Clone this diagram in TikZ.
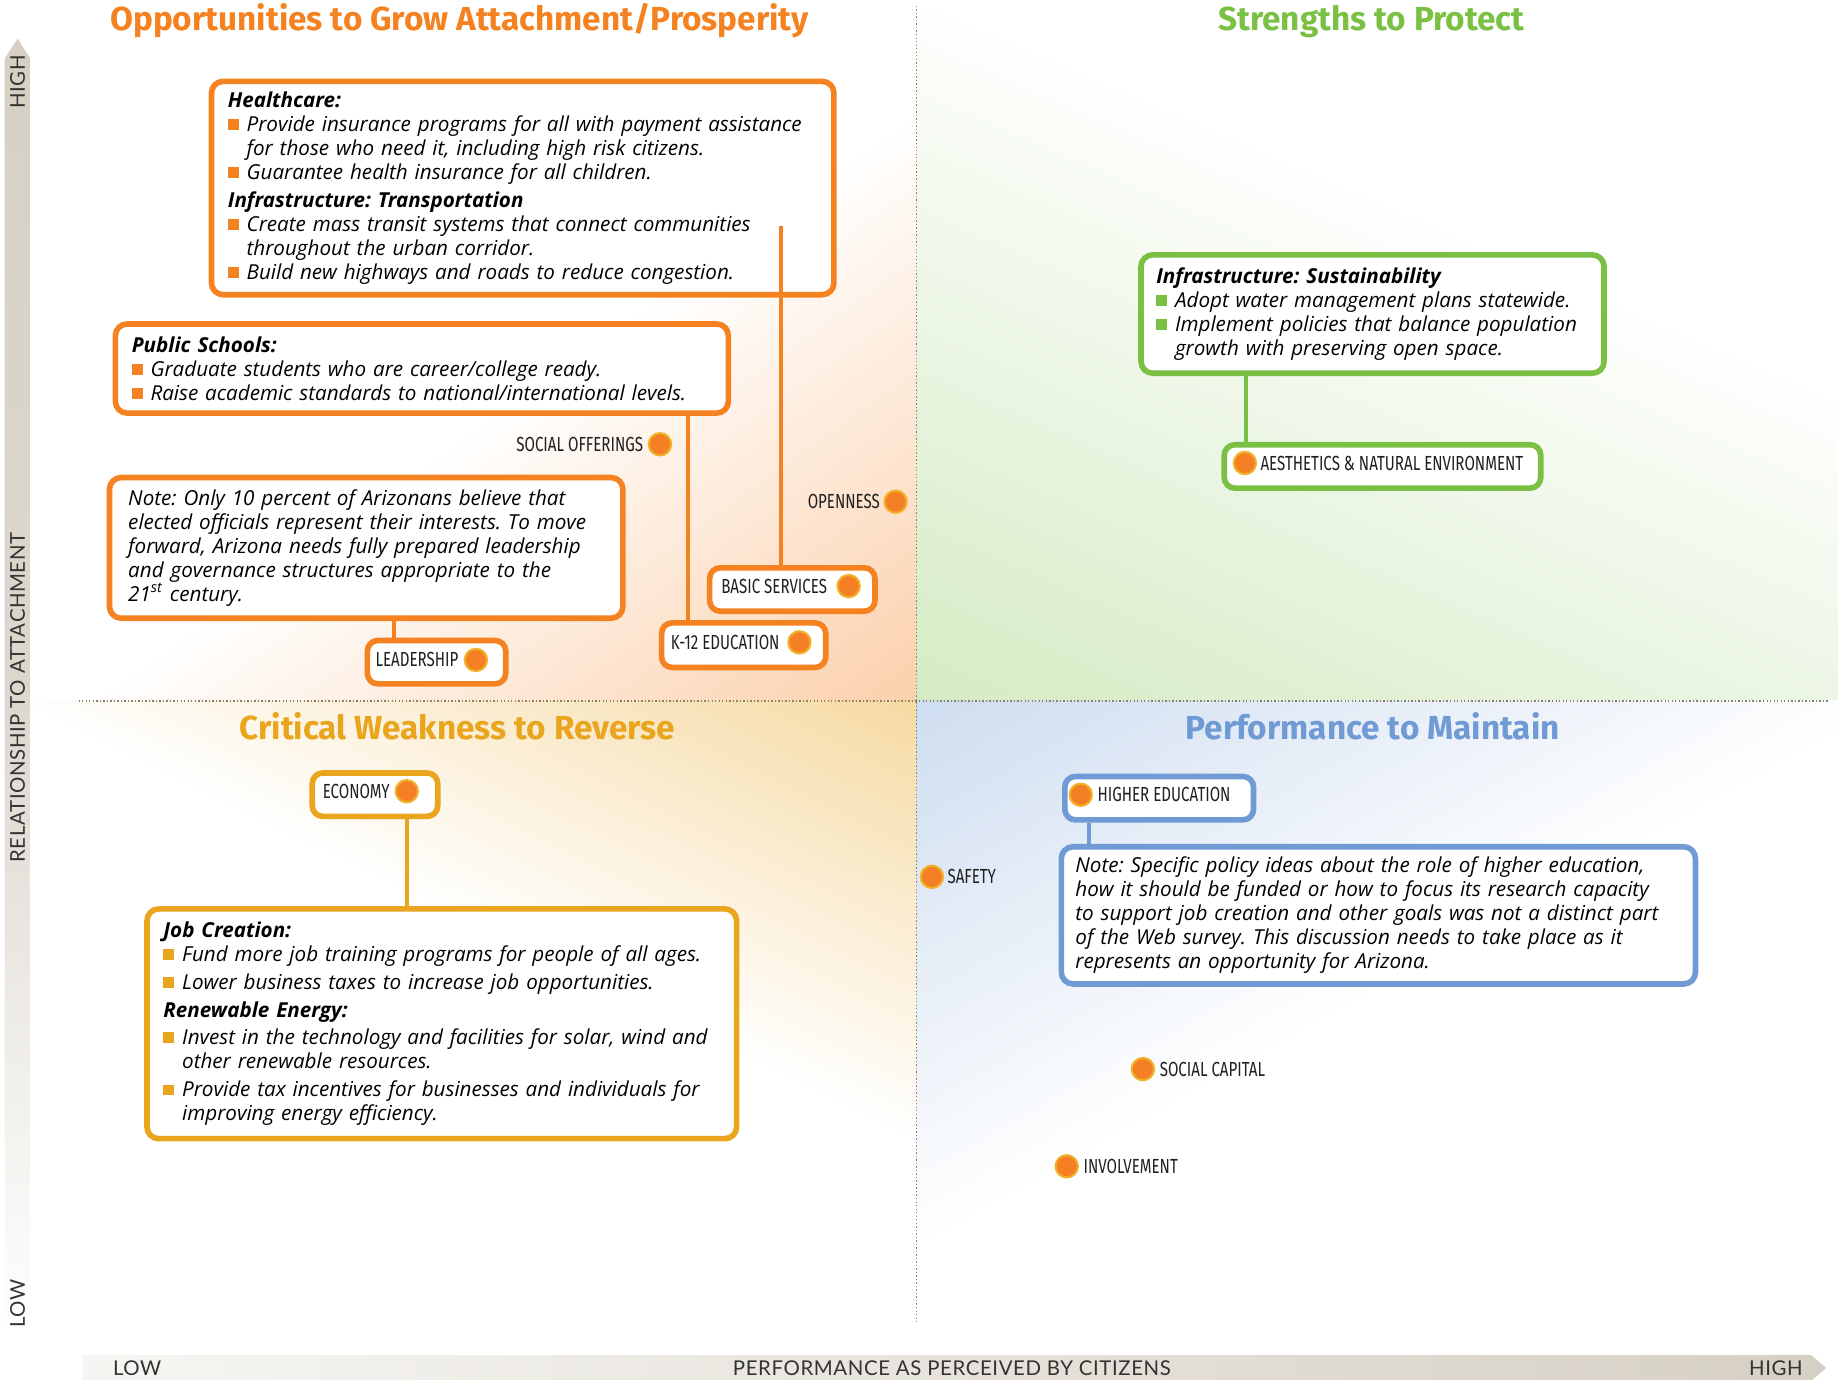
\documentclass[tikz,border=0pt]{standalone}
\usepackage{fontspec}
\setmainfont{Open Sans}
\newfontfamily\titlefamily{Fira Sans}
\newfontfamily\condfamily[FakeStretch=0.74]{Fira Sans}
\newfontfamily\axisfamily[LetterSpace=3]{Lato}
\usetikzlibrary{calc}

\definecolor{orng}{HTML}{F58220}
\definecolor{grn}{HTML}{7AC143}
\definecolor{gld}{HTML}{E9A51E}
\definecolor{blu}{HTML}{6F9AD3}
\definecolor{dotfill}{HTML}{F47F24}
\definecolor{dotring}{HTML}{F0B028}
\definecolor{axgray}{HTML}{D6D0C4}
\definecolor{dotline}{HTML}{8C7F6A}
\colorlet{tlc}{orng!38}
\colorlet{trc}{grn!32}
\colorlet{blc}{gld!42}
\colorlet{brc}{blu!34}
\colorlet{axlight}{axgray!20}
\colorlet{axmid}{axgray!85}

\pgfdeclareverticalshading{fadeTL}{100bp}{color(0bp)=(tlc); color(25bp)=(tlc); color(75bp)=(white); color(100bp)=(white)}
\pgfdeclareverticalshading{fadeTR}{100bp}{color(0bp)=(trc); color(25bp)=(trc); color(75bp)=(white); color(100bp)=(white)}
\pgfdeclareverticalshading{fadeBL}{100bp}{color(0bp)=(blc); color(25bp)=(blc); color(75bp)=(white); color(100bp)=(white)}
\pgfdeclareverticalshading{fadeBR}{100bp}{color(0bp)=(brc); color(25bp)=(brc); color(75bp)=(white); color(100bp)=(white)}
\pgfdeclareverticalshading{axisV}{100bp}{color(0bp)=(white); color(25bp)=(white); color(50bp)=(axmid); color(75bp)=(axgray); color(100bp)=(axgray)}
\pgfdeclarehorizontalshading{axisH}{100bp}{color(0bp)=(axlight); color(25bp)=(axlight); color(75bp)=(axgray); color(100bp)=(axgray)}

\newcommand\bodyfont{\fontsize{8.8}{10.25}\selectfont\itshape}
\newcommand\labfont{\condfamily\fontsize{8.7}{9}\selectfont}
\newcommand\ttlfont{\titlefamily\bfseries\fontsize{14.2}{16}\selectfont}
\newcommand\axfont{\axisfamily\fontsize{8.7}{10}\selectfont}
\newcommand\bq[1]{\makebox[8pt][l]{\textcolor{#1}{\rule[0.6pt]{4.6pt}{4.6pt}}}}
\newcommand\ind{\hspace*{8pt}}
\frenchspacing

\begin{document}
\begin{tikzpicture}[x=0.5pt,y=-0.5pt,
  box/.style={draw=#1, line width=2.4pt, rounded corners=5pt, fill=white, anchor=north west, align=left, inner ysep=0pt, font=\bodyfont},
  pill/.style={draw=#1, line width=2.4pt, rounded corners=4.5pt, fill=white, anchor=north west, inner sep=0pt},
  conn/.style={draw=#1, line width=1.8pt},
  lab/.style={font=\labfont, inner sep=0pt, text=black!88},
  dotn/.style={circle, fill=dotfill, draw=dotring, line width=0.9pt, minimum size=9.5pt, inner sep=0pt},
  ttl/.style={font=\ttlfont, anchor=base, text=#1, inner sep=0pt},
  axt/.style={font=\axfont, text=black!80, inner sep=0pt},
  qline/.style={draw=dotline, line width=0.6pt, dash pattern=on 0.6pt off 0.9pt}
]
\useasboundingbox (0,0) rectangle (1568,1177);

% quadrant gradients
\begin{scope}
\clip (26,0) rectangle (782,598);
\begin{scope}[transform canvas={rotate around={35.5:(782,598)}}]
\shade[shading=fadeTL] (-818,603) rectangle (2382,188);
\end{scope}
\end{scope}
\begin{scope}
\clip (782,0) rectangle (1568,598);
\begin{scope}[transform canvas={rotate around={-23.5:(782,598)}}]
\shade[shading=fadeTR] (-818,603) rectangle (2382,38);
\end{scope}
\end{scope}
\begin{scope}
\clip (26,598) rectangle (782,1150);
\begin{scope}[transform canvas={rotate around={154:(782,598)}}]
\shade[shading=fadeBL] (-818,603) rectangle (2382,258);
\end{scope}
\end{scope}
\begin{scope}
\clip (782,598) rectangle (1568,1150);
\begin{scope}[transform canvas={rotate around={-150.75:(782,598)}}]
\shade[shading=fadeBR] (-818,603) rectangle (2382,188);
\end{scope}
\end{scope}

% quadrant dividers
\draw[qline] (782,5) -- (782,1128);
\draw[qline] (67,598) -- (1560,598);

% axes
\shade[shading=axisV] (4,1140) -- (4,50) -- (15,33) -- (26,50) -- (26,1140) -- cycle;
\shade[shading=axisH] (70,1156) -- (1545,1156) -- (1558,1167) -- (1545,1178) -- (70,1178) -- cycle;
\node[axt, rotate=90] (yhigh) at (15,70) {HIGH};
\node[axt, rotate=90] (ytitle) at (15,595) {RELATIONSHIP TO ATTACHMENT};
\node[axt, rotate=90] (ylow) at (15,1112) {LOW};
\node[axt] (xlow) at (117,1167) {LOW};
\node[axt] (xtitle) at (812,1167) {PERFORMANCE AS PERCEIVED BY CITIZENS};
\node[axt] (xhigh) at (1515,1167) {HIGH};

% titles
\node[ttl=orng] (t1) at (392,26) {Opportunities to Grow Attachment/Prosperity};
\node[ttl=grn] (t2) at (1170,26) {Strengths to Protect};
\node[ttl=gld] (t3) at (390,631) {Critical Weakness to Reverse};
\node[ttl=blu] (t4) at (1171,631) {Performance to Maintain};

% connector x positions
\coordinate (c1) at (336,0);
\coordinate (c2) at (587,0);
\coordinate (c3) at (347,0);
\coordinate (c4) at (1063,0);
\coordinate (c5) at (929,0);
\coordinate (bstop) at (666,193);

% boxes
\node[box=orng, inner xsep=7pt, text width=251.5pt, minimum height=91pt] (hc) at (178,67) {%
{\bfseries Healthcare:}\\
\bq{orng}Provide insurance programs for all with payment assistance\\
\ind for those who need it, including high risk citizens.\\
\bq{orng}Guarantee health insurance for all children.\\[1.5pt]
{\bfseries Infrastructure: Transportation}\\
\bq{orng}Create mass transit systems that connect communities\\
\ind throughout the urban corridor.\\
\bq{orng}Build new highways and roads to reduce congestion.};

\node[box=orng, inner xsep=7pt, text width=247.5pt, minimum height=38pt] (ps) at (96,274) {%
{\bfseries Public Schools:}\\
\bq{orng}Graduate students who are career/college ready.\\
\bq{orng}Raise academic standards to national/international levels.};

\node[box=orng, inner xsep=8pt, text width=203pt, minimum height=60pt] (nl) at (91,405) {%
Note: Only 10 percent of Arizonans believe that\\
elected officials represent their interests. To move\\
forward, Arizona needs fully prepared leadership\\
and governance structures appropriate to the\\
21\textsuperscript{st} century.};

\node[box=gld, inner xsep=7pt, text width=237.5pt, minimum height=98pt] (jc) at (123,773) {%
{\bfseries Job Creation:}\\
\bq{gld}Fund more job training programs for people of all ages.\\[1.75pt]
\bq{gld}Lower business taxes to increase job opportunities.\\[1.75pt]
{\bfseries Renewable Energy:}\\[1.25pt]
\bq{gld}Invest in the technology and facilities for solar, wind and\\
\ind other renewable resources.\\[1.75pt]
\bq{gld}Provide tax incentives for businesses and individuals for\\
\ind improving energy efficiency.};

\node[box=grn, inner xsep=6.5pt, text width=184.5pt, minimum height=50.5pt] (su) at (971,215) {%
{\bfseries Infrastructure: Sustainability}\\
\bq{grn}Adopt water management plans statewide.\\
\bq{grn}Implement policies that balance population\\
\ind growth with preserving open space.};

\node[box=blu, inner xsep=6pt, text width=258.5pt, minimum height=58.5pt] (nh) at (903,720) {%
Note: Specific policy ideas about the role of higher education,\\
how it should be funded or how to focus its research capacity\\
to support job creation and other goals was not a distinct part\\
of the Web survey. This discussion needs to take place as it\\
represents an opportunity for Arizona.};

% pills
\node[pill=orng, minimum width=59pt, minimum height=18.5pt] (lead) at (311,544) {};
\node[pill=orng, minimum width=70.5pt, minimum height=18.5pt] (bs) at (603,482) {};
\node[pill=orng, minimum width=70pt, minimum height=19pt] (k12) at (562,529) {};
\node[pill=gld, minimum width=53.5pt, minimum height=18.5pt] (eco) at (264,657) {};
\node[pill=grn, minimum width=135pt, minimum height=18.5pt] (aes) at (1042,377) {};
\node[pill=blu, minimum width=80.5pt, minimum height=18.5pt] (he) at (906,660) {};

% connectors
\draw[conn=orng] (nl.south -| c1) -- (lead.north -| c1);
\draw[conn=orng] (ps.south -| c2) -- (k12.north -| c2);
\draw[conn=gld] (eco.south -| c3) -- (jc.north -| c3);
\draw[conn=grn] (su.south -| c4) -- (aes.north -| c4);
\draw[conn=blu] (he.south -| c5) -- (nh.north -| c5);
\draw[conn=orng] (bstop) -- (bstop |- bs.north);

% labels and dots
\node[lab, anchor=west] (lleadership) at (320,563) {LEADERSHIP};
\node[dotn] (dleadership) at (406,563) {};
\node[lab, anchor=west] (lbasic) at (615,500) {BASIC SERVICES};
\node[dotn] (dbasic) at (724,500) {};
\node[lab, anchor=west] (lk12) at (572,548) {K-12 EDUCATION};
\node[dotn] (dk12) at (682,548) {};
\node[lab, anchor=west] (leco) at (275,675) {ECONOMY};
\node[dotn] (deco) at (347,675) {};
\node[lab, anchor=west] (laes) at (1075,395) {AESTHETICS \& NATURAL ENVIRONMENT};
\node[dotn] (daes) at (1062,395) {};
\node[lab, anchor=west] (lhe) at (936,678) {HIGHER EDUCATION};
\node[dotn] (dhe) at (922,678) {};
\node[lab, anchor=east] (lso) at (549,379) {SOCIAL OFFERINGS};
\node[dotn] (dso) at (563,379) {};
\node[lab, anchor=east] (lop) at (751,428) {OPENNESS};
\node[dotn] (dop) at (764,428) {};
\node[lab, anchor=west] (lsafe) at (808,748) {SAFETY};
\node[dotn] (dsafe) at (795,748) {};
\node[lab, anchor=west] (lsc) at (989,912) {SOCIAL CAPITAL};
\node[dotn] (dsc) at (975,912) {};
\node[lab, anchor=west] (linv) at (924,995) {INVOLVEMENT};
\node[dotn] (dinv) at (910,995) {};
\end{tikzpicture}
\end{document}
